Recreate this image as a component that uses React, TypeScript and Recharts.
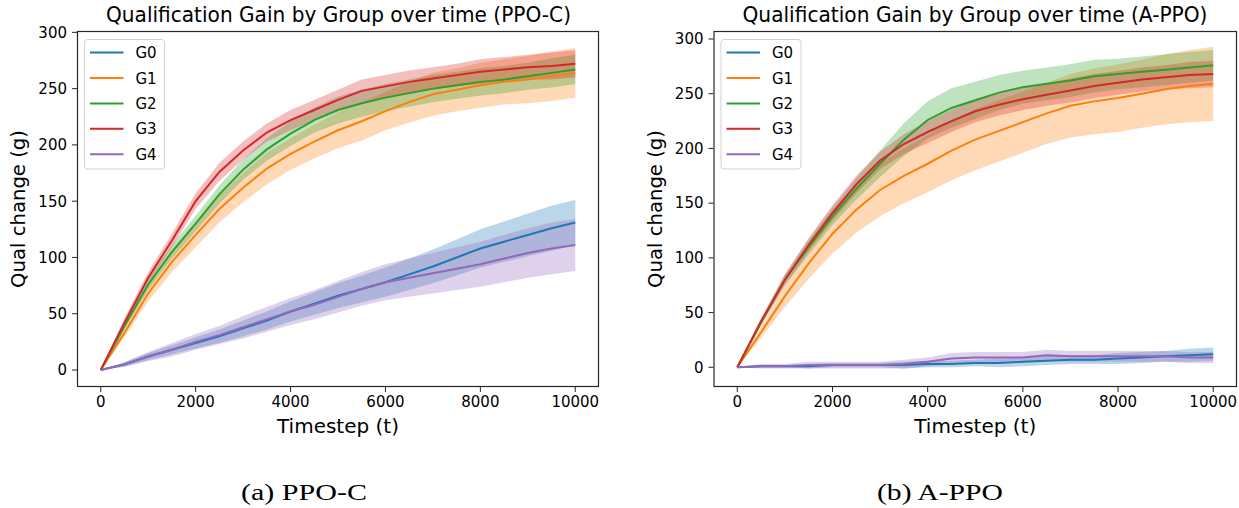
import React from "react";
import { ComposedChart, Line, Area, XAxis, YAxis } from "recharts";

const TIMESTEPS = [
  0, 500, 1000, 1500, 2000, 2500, 3000, 3500, 4000, 4500, 5000, 5500, 6000,
  6500, 7000, 7500, 8000, 8500, 9000, 9500, 10000,
];
const GROUPS = ["G0", "G1", "G2", "G3", "G4"];
const COLORS = ["#1f77b4", "#ff7f0e", "#2ca02c", "#d62728", "#9467bd"];
const X_TICKS = [0, 2000, 4000, 6000, 8000, 10000];
const Y_TICKS = [0, 50, 100, 150, 200, 250, 300];

// PPO-C means
const ppocG0 = [0, 5, 12, 18, 24, 30, 37, 44, 52, 59, 66, 72, 78, 85, 92, 100, 108, 114, 120, 126, 131];
const ppocG1 = [0, 33, 68, 96, 120, 143, 162, 179, 192, 203, 213, 221, 230, 238, 245, 249, 253, 256, 258, 261, 264];
const ppocG2 = [0, 39, 76, 105, 130, 156, 178, 196, 210, 222, 231, 237, 242, 246, 250, 253, 256, 258, 261, 264, 267];
const ppocG3 = [0, 42, 82, 115, 150, 176, 195, 211, 222, 231, 240, 248, 252, 256, 259, 262, 265, 267, 269, 270, 272];
const ppocG4 = [0, 5, 12, 18, 25, 31, 38, 45, 52, 58, 65, 72, 78, 82, 86, 90, 94, 99, 104, 108, 111];
// PPO-C band half widths
const ppocG0Sd = [0, 2, 3, 4, 5, 6, 7, 8, 9, 10, 11, 12, 13, 14, 15, 16, 17, 18, 19, 20, 20];
const ppocG1Sd = [0, 4, 7, 9, 11, 12, 13, 14, 14, 15, 16, 17, 17, 18, 19, 19, 20, 20, 21, 22, 22];
const ppocG2Sd = [0, 3, 5, 6, 7, 8, 9, 10, 11, 11, 12, 12, 12, 12, 12, 12, 12, 12, 12, 13, 13];
const ppocG3Sd = [0, 4, 5, 6, 7, 8, 8, 8, 9, 9, 9, 10, 10, 10, 10, 10, 11, 11, 11, 12, 12];
const ppocG4Sd = [0, 2, 4, 6, 7, 8, 10, 11, 12, 13, 14, 15, 16, 17, 18, 19, 20, 21, 22, 23, 23];

// A-PPO means
const appoG0 = [0, 1, 1, 1, 2, 2, 2, 2, 3, 3, 4, 4, 5, 6, 7, 7, 8, 9, 10, 11, 12];
const appoG1 = [0, 32, 65, 95, 122, 144, 162, 175, 186, 198, 208, 216, 224, 232, 239, 243, 246, 250, 254, 257, 259];
const appoG2 = [0, 41, 80, 110, 138, 163, 186, 208, 226, 237, 244, 251, 256, 259, 262, 266, 268, 270, 272, 274, 276];
const appoG3 = [0, 42, 80, 112, 141, 167, 189, 204, 215, 225, 234, 240, 245, 249, 253, 257, 260, 263, 265, 267, 268];
const appoG4 = [0, 1, 1, 2, 2, 2, 2, 3, 5, 8, 9, 9, 9, 11, 10, 10, 10, 10, 10, 9, 9];
// A-PPO band half widths
const appoG0Sd = [0, 1, 1, 2, 2, 2, 2, 3, 3, 3, 3, 4, 4, 4, 4, 4, 5, 5, 5, 6, 6];
const appoG1Sd = [0, 5, 10, 14, 18, 21, 24, 25, 26, 27, 28, 28, 28, 28, 29, 30, 31, 31, 32, 33, 34];
const appoG2Sd = [0, 3, 5, 7, 8, 10, 12, 15, 17, 18, 17, 16, 15, 15, 15, 15, 14, 14, 14, 14, 14];
const appoG3Sd = [0, 3, 5, 6, 7, 8, 8, 9, 10, 10, 10, 10, 10, 10, 11, 11, 11, 11, 11, 12, 12];
const appoG4Sd = [0, 2, 2, 3, 3, 3, 3, 4, 4, 5, 5, 5, 5, 5, 5, 5, 5, 5, 5, 5, 5];

const SANS = "'DejaVu Sans', sans-serif";
const SERIF = "'Liberation Serif', 'DejaVu Serif', serif";
const SPINE = "#262626";

function buildRows(means: number[][], spreads: number[][]) {
  return TIMESTEPS.map((t, i) => {
    const row: Record<string, any> = { t };
    means.forEach((m, g) => {
      row[`m${g}`] = m[i];
      row[`b${g}`] = [m[i] - spreads[g][i], m[i] + spreads[g][i]];
    });
    return row;
  });
}

const ppocRows = buildRows(
  [ppocG0, ppocG1, ppocG2, ppocG3, ppocG4],
  [ppocG0Sd, ppocG1Sd, ppocG2Sd, ppocG3Sd, ppocG4Sd]
);
const appoRows = buildRows(
  [appoG0, appoG1, appoG2, appoG3, appoG4],
  [appoG0Sd, appoG1Sd, appoG2Sd, appoG3Sd, appoG4Sd]
);

type PanelProps = {
  rows: Record<string, any>[];
  left: number;
  width: number;
  plotLeft: number;
  plotRight: number;
  yDomain: [number, number];
};

const PLOT_TOP = 31;
const PLOT_BOTTOM = 387;
const CHART_H = 450;

function Panel({ rows, left, width, plotLeft, plotRight, yDomain }: PanelProps) {
  const tick = { fill: "#000", fontSize: 15, fontFamily: SANS };
  return (
    <div style={{ position: "absolute", left, top: 0 }}>
      <ComposedChart
        width={width}
        height={CHART_H}
        data={rows}
        margin={{
          top: PLOT_TOP,
          bottom: CHART_H - PLOT_BOTTOM - 30,
          left: plotLeft - left - 40,
          right: left + width - plotRight,
        }}
      >
        <XAxis
          dataKey="t"
          type="number"
          domain={[-500, 10500]}
          ticks={X_TICKS}
          height={30}
          axisLine={false}
          tickLine={{ stroke: SPINE }}
          tickSize={5}
          tickMargin={4}
          tick={tick}
          allowDataOverflow
        />
        <YAxis
          type="number"
          domain={yDomain}
          ticks={Y_TICKS}
          width={40}
          axisLine={false}
          tickLine={{ stroke: SPINE }}
          tickSize={5}
          tickMargin={5}
          tick={tick}
          allowDataOverflow
        />
        {GROUPS.map((g, i) => (
          <Area
            key={`b${g}`}
            dataKey={`b${i}`}
            type="linear"
            stroke="none"
            fill={COLORS[i]}
            fillOpacity={0.3}
            isAnimationActive={false}
          />
        ))}
        {GROUPS.map((g, i) => (
          <Line
            key={`m${g}`}
            dataKey={`m${i}`}
            type="linear"
            stroke={COLORS[i]}
            strokeWidth={2}
            dot={false}
            isAnimationActive={false}
          />
        ))}
      </ComposedChart>
    </div>
  );
}

type DecorProps = {
  plotLeft: number;
  plotRight: number;
  title: string;
  titleX: number;
  yLabelX: number;
  caption: string;
  captionX: number;
};

function Decor({ plotLeft, plotRight, title, titleX, yLabelX, caption, captionX }: DecorProps) {
  const cx = (plotLeft + plotRight) / 2;
  const cy = (PLOT_TOP + PLOT_BOTTOM) / 2;
  const lx = plotLeft + 7.5;
  return (
    <g>
      <rect
        x={plotLeft + 0.5}
        y={PLOT_TOP + 0.5}
        width={plotRight - plotLeft - 1}
        height={PLOT_BOTTOM - PLOT_TOP - 1}
        fill="none"
        stroke={SPINE}
        strokeWidth={1.2}
      />
      <text
        x={titleX}
        y={22}
        textAnchor="middle"
        fontSize={20.5}
        fontFamily={SANS}
        fill="#000"
        textLength={465}
        lengthAdjust="spacingAndGlyphs"
      >
        {title}
      </text>
      <text
        x={cx}
        y={433}
        textAnchor="middle"
        fontSize={20}
        fontFamily={SANS}
        fill="#000"
        textLength={122}
        lengthAdjust="spacingAndGlyphs"
      >
        Timestep (t)
      </text>
      <text
        x={yLabelX}
        y={cy}
        textAnchor="middle"
        fontSize={20}
        fontFamily={SANS}
        fill="#000"
        textLength={158}
        lengthAdjust="spacingAndGlyphs"
        transform={`rotate(-90 ${yLabelX} ${cy})`}
      >
        Qual change (g)
      </text>
      <rect
        x={lx}
        y={39.5}
        width={80}
        height={129.5}
        rx={3}
        fill="#fff"
        fillOpacity={0.8}
        stroke="#d0d0d0"
        strokeWidth={1}
      />
      {GROUPS.map((g, i) => {
        const y = 52.6 + i * 25.4;
        return (
          <g key={g}>
            <line x1={lx + 5.5} x2={lx + 39} y1={y} y2={y} stroke={COLORS[i]} strokeWidth={2} />
            <text x={lx + 51} y={y + 5.5} fontSize={15} fontFamily={SANS} fill="#000">
              {g}
            </text>
          </g>
        );
      })}
      <text
        x={captionX}
        y={500}
        textAnchor="middle"
        fontSize={23}
        fontFamily={SERIF}
        fill="#000"
        textLength={126}
        lengthAdjust="spacingAndGlyphs"
      >
        {caption}
      </text>
    </g>
  );
}

export default function App() {
  return (
    <div style={{ position: "relative", width: 1239, height: 508, background: "#fff", overflow: "hidden" }}>
      <style>{`body{margin:0;}`}</style>
      <Panel rows={ppocRows} left={0} width={620} plotLeft={77} plotRight={599} yDomain={[-15.1, 301.2]} />
      <Panel rows={appoRows} left={620} width={619} plotLeft={713.5} plotRight={1237} yDomain={[-18, 307.3]} />
      <svg
        width={1239}
        height={508}
        style={{ position: "absolute", left: 0, top: 0, pointerEvents: "none" }}
      >
        <Decor
          plotLeft={77}
          plotRight={599}
          title="Qualification Gain by Group over time (PPO-C)"
          titleX={338.5}
          yLabelX={25}
          caption="(a) PPO-C"
          captionX={304}
        />
        <Decor
          plotLeft={713.5}
          plotRight={1237}
          title="Qualification Gain by Group over time (A-PPO)"
          titleX={975}
          yLabelX={662}
          caption="(b) A-PPO"
          captionX={940}
        />
      </svg>
    </div>
  );
}
